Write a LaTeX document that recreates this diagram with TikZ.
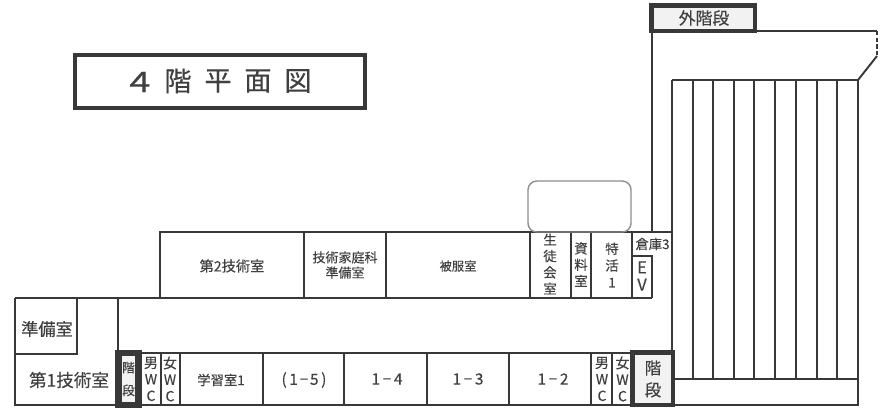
\documentclass[tikz,border=0pt]{standalone}
\usepackage{fontspec}
\setmainfont{Noto Sans CJK JP}[FakeBold=0.25]
\definecolor{inkline}{gray}{0.22}
\definecolor{inktext}{gray}{0.25}
\tikzset{
  wall/.style={draw=inkline,line width=1.1pt},
  thinwall/.style={draw=inkline,line width=0.9pt},
  heavybox/.style={draw=inkline,fill=black!5,line width=2.7pt},
  room/.style={text=inktext,align=center,inner sep=0pt,font=\fontsize{7.4}{8.6}\selectfont},
  tallroom/.style={room,font=\fontsize{7.6}{9.3}\selectfont},
  wcroom/.style={room,font=\fontsize{8}{9.4}\selectfont},
  class/.style={room,font=\fontsize{8.8}{10}\selectfont},
  titlechar/.style={room,font=\fontsize{15.5}{17}\selectfont},
}
\begin{document}
\begin{tikzpicture}[x=0.02cm,y=-0.02cm]
  \useasboundingbox (0,0) rectangle (883,407);
  % title
  \draw[wall,line width=1.8pt] (75,55) rectangle (365,108);
  \node[titlechar] (titlefour) at (140,82) {\scalebox{1.4}[1.05]{4}};
  \foreach \titlech/\titlex in {階/178,平/218,面/258,図/298}
    \node[titlechar] (title\titlex) at (\titlex,81) {\titlech};
  % outer stairs and the wall that comes down from them
  \draw[wall] (652,33) -- (652,232);
  \draw[wall] (757,31) -- (877,31);
  \draw[wall,dash pattern=on 2.4pt off 1.4pt] (877,31) -- (877,56);
  \draw[wall] (877,56) -- (858,80);
  % stripes
  \draw[thinwall] (672,80) -- (858,80);
  \foreach \stripe in {672,693,713,734,754,775,796,817,837,858}
    \draw[thinwall] (\stripe,80) -- (\stripe,379);
  \draw[wall] (673,379) -- (858,379) -- (858,405) -- (673,405);
  % upper row
  \draw[wall] (160,298) -- (160,232) -- (652,232);
  \foreach \wallx in {304,386,530,571,591,632}
    \draw[wall] (\wallx,232) -- (\wallx,298);
  \draw[wall] (652,255) -- (652,298);
  \draw[wall] (632,256) -- (652,256);
  \draw[wall] (652,232) -- (673,232);
  % corridor
  \draw[wall] (15,298) -- (652,298);
  \draw[wall] (118,298) -- (118,354);
  \draw[wall] (15,298) -- (15,405) -- (673,405);
  \draw[wall] (77,298) -- (77,354) -- (15,354);
  \draw[wall] (118,353) -- (632,353);
  % lower row
  \foreach \wallx in {161,180,263,344,427,509,591,612}
    \draw[wall] (\wallx,353) -- (\wallx,405);
  % rounded room without a name
  \draw[draw=black!45,line width=0.8pt,rounded corners=5pt] (528,181) rectangle (631,232);
  % heavy boxes
  \draw[heavybox,line width=3.6pt] (118.5,353) rectangle (138.5,405);
  \draw[heavybox] (632.5,352.5) rectangle (673,405);
  \draw[heavybox] (651.5,5.5) rectangle (755,31);
  % labels
  \node[room,font=\fontsize{9.6}{10}\selectfont] (outer) at (704,18) {外階段};
  \node[room,font=\fontsize{8.1}{10}\selectfont] (second) at (232,266) {第2技術室};
  \node[room] (home) at (345,265) {技術家庭科\\準備室};
  \node[room,font=\fontsize{7}{8}\selectfont] (sewing) at (458,266) {被服室};
  \node[tallroom] (council) at (550,264) {生\\徒\\会\\室};
  \node[tallroom] (archive) at (581,264.5) {資\\料\\室};
  \node[tallroom,font=\fontsize{7.6}{9.6}\selectfont] (special) at (612,265) {特\\活\\1};
  \node[room,font=\fontsize{7.6}{8}\selectfont] (store) at (652.5,244) {倉庫3};
  \node[room,font=\fontsize{9.4}{9.8}\selectfont] (lift) at (642,276) {E\\V};
  \node[room,font=\fontsize{9.8}{10}\selectfont] (prep) at (47,329) {準備室};
  \node[room,font=\fontsize{10}{10}\selectfont] (first) at (69,380) {第1技術室};
  \node[room,font=\fontsize{7.2}{13}\selectfont] (westst) at (128.5,379) {階\\段};
  \node[wcroom] (westm) at (151,379) {男\\W\\C};
  \node[wcroom] (westf) at (170,379) {女\\W\\C};
  \node[room,font=\fontsize{7.6}{9}\selectfont] (study) at (221,380) {学習室1};
  \node[class] (cfive) at (304,380) {(\hspace{1.5pt}1\hspace{1pt}−\hspace{1pt}5\hspace{1.5pt})};
  \node[class] (cfour) at (387,379) {1\hspace{1.5pt}−\hspace{1.5pt}4};
  \node[class] (cthree) at (468,379) {1\hspace{1.5pt}−\hspace{1.5pt}3};
  \node[class] (ctwo) at (553,379) {1\hspace{1.5pt}−\hspace{1.5pt}2};
  \node[wcroom] (eastm) at (602,379) {男\\W\\C};
  \node[wcroom] (eastf) at (622.5,379) {女\\W\\C};
  \node[room,font=\fontsize{9.4}{12.5}\selectfont] (eastst) at (653,379) {階\\段};
\end{tikzpicture}
\end{document}
